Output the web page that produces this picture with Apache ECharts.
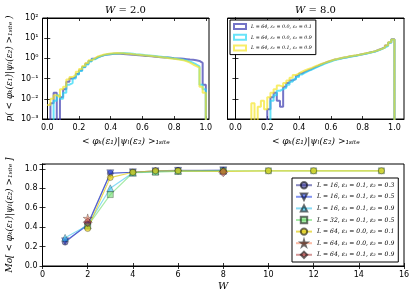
<!DOCTYPE html>
<html><head><meta charset="utf-8">
<script src="https://cdn.jsdelivr.net/npm/echarts@6/dist/echarts.min.js"></script>
<style>html,body{margin:0;padding:0;background:#fff}#c{width:416px;height:299px}</style>
</head><body><div id="c"></div>
<script>
// ---- histogram bins (left edges, width 0.02) ----
const binEdges = [0.00,0.02,0.04,0.06,0.08,0.10,0.12,0.14,0.16,0.18,0.20,0.22,0.24,0.26,0.28,0.30,0.32,0.34,0.36,0.38,0.40,0.42,0.44,0.46,0.48,0.50,0.52,0.54,0.56,0.58,0.60,0.62,0.64,0.66,0.68,0.70,0.72,0.74,0.76,0.78,0.80,0.82,0.84,0.86,0.88,0.90,0.92,0.94,0.96,0.98];
const histEnd = 1.0;
// W = 2.0
const w2Blue   = [0,0.006,0.02,0,0.012,0.03,0.07,0.1,0.12,0.17,0.25,0.38,0.55,0.75,0.95,1.15,1.3,1.45,1.55,1.62,1.68,1.7,1.68,1.65,1.6,1.55,1.5,1.47,1.42,1.38,1.33,1.3,1.26,1.22,1.18,1.15,1.12,1.1,1.07,1.03,1.0,0.98,0.95,0.92,0.88,0.85,0.8,0.75,0.6,0.05];
const w2Cyan   = [0,0,0.008,0.015,0.01,0.02,0.05,0.06,0.1,0.16,0.24,0.36,0.5,0.7,0.9,1.1,1.3,1.45,1.55,1.65,1.7,1.75,1.8,1.85,1.8,1.75,1.7,1.6,1.55,1.5,1.45,1.4,1.35,1.3,1.25,1.2,1.15,1.1,1.05,1.0,0.95,0.9,0.85,0.78,0.7,0.6,0.5,0.4,0.05,0.03];
const w2Yellow = [0.005,0.01,0.015,0.012,0.03,0.04,0.09,0.12,0.15,0.22,0.3,0.42,0.6,0.8,1.0,1.25,1.4,1.55,1.65,1.75,1.8,1.85,1.82,1.78,1.72,1.68,1.62,1.55,1.5,1.45,1.4,1.35,1.3,1.25,1.2,1.15,1.1,1.05,1.0,0.95,0.9,0.85,0.8,0.72,0.62,0.5,0.42,0.35,0.04,0.02];
// W = 8.0
const w8Blue   = [0,0,0,0,0,0,0,0,0,0,0.003,0.012,0.02,0.008,0.004,0.04,0.06,0.08,0.1,0.14,0.18,0.22,0.26,0.3,0.36,0.42,0.5,0.58,0.66,0.75,0.85,0.92,1.0,1.08,1.15,1.25,1.32,1.4,1.5,1.62,1.75,1.9,2.05,2.25,2.6,3.0,3.5,4.4,6.2,8.8];
const w8Cyan   = [0,0,0,0,0,0,0,0,0,0,0,0.008,0.015,0.025,0.03,0.035,0.05,0.07,0.09,0.12,0.16,0.2,0.24,0.28,0.33,0.39,0.46,0.54,0.62,0.7,0.8,0.88,0.96,1.04,1.12,1.2,1.28,1.36,1.46,1.58,1.7,1.85,2.0,2.2,2.5,2.9,3.4,4.2,6.0,8.5];
const w8Yellow = [0,0,0,0,0,0.006,0,0.004,0.008,0.003,0.012,0.02,0.03,0.045,0.04,0.06,0.08,0.11,0.15,0.18,0.22,0.26,0.3,0.34,0.4,0.46,0.53,0.6,0.68,0.77,0.86,0.94,1.02,1.1,1.18,1.27,1.35,1.43,1.53,1.65,1.78,1.92,2.08,2.3,2.6,2.95,3.4,4.3,6.3,8.6];
const histNames = ['L = 64, ε₁ = 0.0, ε₂ = 0.1','L = 64, ε₁ = 0.0, ε₂ = 0.9','L = 64, ε₁ = 0.1, ε₂ = 0.9'];
const histColors = ['rgba(70,70,180,0.75)','rgba(40,215,245,0.7)','rgba(245,230,40,0.7)'];

// ---- bottom panel ----
const wValues = [1,2,3,4,5,6,8,10,12,15];
const moCirc    = [0.245,0.43,0.955,0.965,0.98,0.985,0.985,null,null,null];
const moTriDown = [0.255,0.42,0.955,0.965,0.975,0.98,0.985,null,null,null];
const moTriUp   = [0.29,0.42,0.80,0.96,0.975,0.98,0.98,null,null,null];
const moSquare  = [null,0.41,0.735,0.96,0.965,0.975,0.98,0.98,0.98,0.98];
const moHex     = [null,0.385,0.91,0.965,0.98,0.98,0.975,0.98,0.98,0.98];
const moStar    = [null,0.49,null,null,null,null,null,null,null,null];
const moDiamond = [null,0.45,null,null,null,null,0.965,null,null,null];
const moNames = ['L = 16, ε₁ = 0.1, ε₂ = 0.3','L = 16, ε₁ = 0.1, ε₂ = 0.5','L = 16, ε₁ = 0.1, ε₂ = 0.9','L = 32, ε₁ = 0.1, ε₂ = 0.5','L = 64, ε₁ = 0.0, ε₂ = 0.1','L = 64, ε₁ = 0.0, ε₂ = 0.9','L = 64, ε₁ = 0.1, ε₂ = 0.9'];

const xTickVals = [0,0.2,0.4,0.6,0.8,1.0];
const logTickVals = [0.001,0.01,0.1,1,10,100];

const FLOOR = 1e-4;
function histData(vals){
  const d = binEdges.map((e,i)=>[e, vals[i] > 0 ? vals[i] : FLOOR]);
  d.push([histEnd, FLOOR]);
  return d;
}
function moData(vals){ return wValues.map((w,i)=>[w, vals[i]==null ? '-' : vals[i]]); }

const sup = {'-':'⁻','0':'⁰','1':'¹','2':'²','3':'³','4':'⁴'};
function logFmt(v){ const e = Math.round(Math.log10(v)); return '10' + String(e).split('').map(c=>sup[c]).join(''); }

const MATH = '"DejaVu Serif", serif';
const TICKF = '"DejaVu Sans", sans-serif';
const braket = '< φₖ(ε₁)|ψₗ(ε₂) >₁ₛᵢₜₑ';
const ZW = '\u200b'; // keeps histogram legend names distinct from the bottom-panel names

const tickStyle = {show:true, inside:true, length:3, lineStyle:{color:'#000', width:0.8}};
const lineStyleAx = {show:true, lineStyle:{color:'#000', width:1}};

const G = [
  {left:42.5, top:18, width:166.5, height:101},
  {left:227.5, top:18, width:176.5, height:101},
  {left:42.5, top:164, width:361.5, height:102}
];

function histX(grid, min, max){
  return [
    {type:'value', gridIndex:grid, min:min, max:max, position:'bottom',
     axisLine:lineStyleAx, splitLine:{show:false},
     axisTick:Object.assign({customValues:xTickVals}, tickStyle),
     axisLabel:{customValues:xTickVals, formatter:v=>v.toFixed(1), fontFamily:TICKF, fontSize:8, color:'#000', margin:5},
     name: braket, nameLocation:'middle', nameGap:18,
     nameTextStyle:{fontFamily:MATH, fontStyle:'italic', fontSize:9, color:'#000'}},
    {type:'value', gridIndex:grid, min:min, max:max, position:'top',
     axisLine:lineStyleAx, splitLine:{show:false},
     axisTick:Object.assign({customValues:xTickVals}, tickStyle),
     axisLabel:{show:false}}
  ];
}
function histY(grid, labels){
  const base = {type:'log', logBase:10, gridIndex:grid, min:0.001, max:100,
     axisLine:lineStyleAx, splitLine:{show:false}, minorTick:{show:false},
     axisTick:Object.assign({customValues:logTickVals}, tickStyle)};
  const left = Object.assign({}, base, {position:'left',
     axisLabel: labels ? {customValues:logTickVals, formatter:logFmt, fontFamily:TICKF, fontSize:8, color:'#000', margin:4} : {show:false}});
  if (labels){
    left.name = 'p( ' + braket + ' )';
    left.nameLocation = 'middle'; left.nameGap = 28;
    left.nameTextStyle = {fontFamily:MATH, fontStyle:'italic', fontSize:9, color:'#000'};
  }
  const right = Object.assign({}, base, {position:'right', axisLabel:{show:false}});
  return [left, right];
}

const xAxes = [].concat(histX(0,-0.03,1.02), histX(1,-0.05,1.06), [
  {type:'value', gridIndex:2, min:0, max:16, interval:2, position:'bottom',
   axisLine:lineStyleAx, splitLine:{show:false}, axisTick:tickStyle,
   axisLabel:{fontFamily:TICKF, fontSize:8, color:'#000', margin:5},
   name:'W', nameLocation:'middle', nameGap:15,
   nameTextStyle:{fontFamily:MATH, fontStyle:'italic', fontSize:10, color:'#000'}},
  {type:'value', gridIndex:2, min:0, max:16, interval:2, position:'top',
   axisLine:lineStyleAx, splitLine:{show:false}, axisTick:tickStyle, axisLabel:{show:false}}
]);
const moY = {type:'value', gridIndex:2, min:0, max:1.05, interval:0.2,
   axisLine:lineStyleAx, splitLine:{show:false}, axisTick:tickStyle};
const yAxes = [].concat(histY(0,true), histY(1,false), [
  Object.assign({}, moY, {position:'left',
    axisLabel:{fontFamily:TICKF, fontSize:8, color:'#000', margin:5, formatter:v=> (Math.abs(v*5-Math.round(v*5))<1e-6 ? v.toFixed(1) : '')},
    name:'Mo[ ' + braket + ' ]', nameLocation:'middle', nameGap:24,
    nameTextStyle:{fontFamily:MATH, fontStyle:'italic', fontSize:9, color:'#000'}}),
  Object.assign({}, moY, {position:'right', axisLabel:{show:false}})
]);

const series = [];
[[w2Blue,w2Cyan,w2Yellow],[w8Blue,w8Cyan,w8Yellow]].forEach((set,p)=>{
  set.forEach((vals,k)=>{
    series.push({type:'line', name:histNames[k] + ZW, xAxisIndex:p*2, yAxisIndex:p*2,
      data:histData(vals), step:'end', showSymbol:false, symbol:'none', clip:true, animation:false,
      lineStyle:{color:histColors[k], width:2}, itemStyle:{color:histColors[k]}});
  });
});

const triDown = 'path://M0,0 L10,0 L5,9 Z';
const triUp = 'path://M5,0 L10,9 L0,9 Z';
const moSpec = [
  {vals:moCirc, color:'rgba(40,40,140,0.55)', symbol:'circle', size:6},
  {vals:moTriDown, color:'rgba(30,60,230,0.55)', symbol:triDown, size:7},
  {vals:moTriUp, color:'rgba(40,190,235,0.55)', symbol:triUp, size:7},
  {vals:moSquare, color:'rgba(110,220,110,0.6)', symbol:'rect', size:6},
  {vals:moHex, color:'rgba(225,205,20,0.7)', symbol:'circle', size:6},
  {vals:moStar, color:'rgba(245,130,90,0.55)', symbol:'path://M50,0 L61,35 L98,35 L68,57 L79,91 L50,70 L21,91 L32,57 L2,35 L39,35 Z', size:9},
  {vals:moDiamond, color:'rgba(170,50,50,0.5)', symbol:'diamond', size:9}
];
moSpec.forEach((s,k)=>{
  series.push({type:'line', name:moNames[k], xAxisIndex:4, yAxisIndex:4,
    data:moData(s.vals), symbol:s.symbol, symbolSize:s.size, showSymbol:true, animation:false,
    lineStyle:{color:s.color, width:1.2},
    itemStyle:{color:s.color, borderColor:'rgba(0,0,0,0.55)', borderWidth:0.5}});
});

const chart = echarts.init(document.getElementById('c'), null, {renderer:'canvas'});
chart.setOption({
  backgroundColor:'#fff',
  animation:false,
  grid: G.map(g=>Object.assign({show:true, borderColor:'#000', borderWidth:1, outerBoundsMode:'none', containLabel:false}, g)),
  xAxis: xAxes,
  yAxis: yAxes,
  legend: [
    {data: histNames.map((n,k)=>({name:n + ZW, icon:'rect', itemStyle:{color:'#fff', borderColor:histColors[k], borderWidth:2}})),
     orient:'vertical', left:230, top:20, itemWidth:12, itemHeight:5, itemGap:3.8,
     padding:[3,4,3,3], borderColor:'#000', borderWidth:1, backgroundColor:'#fff',
     textStyle:{fontFamily:MATH, fontStyle:'italic', fontSize:4.8, color:'#000'}, selectedMode:false},
    {data: moNames, orient:'vertical', left:292, top:178, itemWidth:16, itemHeight:8, itemGap:3.2,
     padding:[3,4,3,3], borderColor:'#000', borderWidth:1, backgroundColor:'#fff',
     textStyle:{fontFamily:MATH, fontStyle:'italic', fontSize:6.1, color:'#000'}, selectedMode:false}
  ],
  graphic: [
    {type:'text', x:125.5, y:10, style:{text:'{i|W} = 2.0', textAlign:'center', textVerticalAlign:'middle', fill:'#000', font:'10px "DejaVu Serif"', rich:{i:{fontStyle:'italic', fontFamily:'DejaVu Serif', fontSize:10}}}},
    {type:'text', x:315.5, y:10, style:{text:'{i|W} = 8.0', textAlign:'center', textVerticalAlign:'middle', fill:'#000', font:'10px "DejaVu Serif"', rich:{i:{fontStyle:'italic', fontFamily:'DejaVu Serif', fontSize:10}}}}
  ],
  series: series
});
</script></body></html>
